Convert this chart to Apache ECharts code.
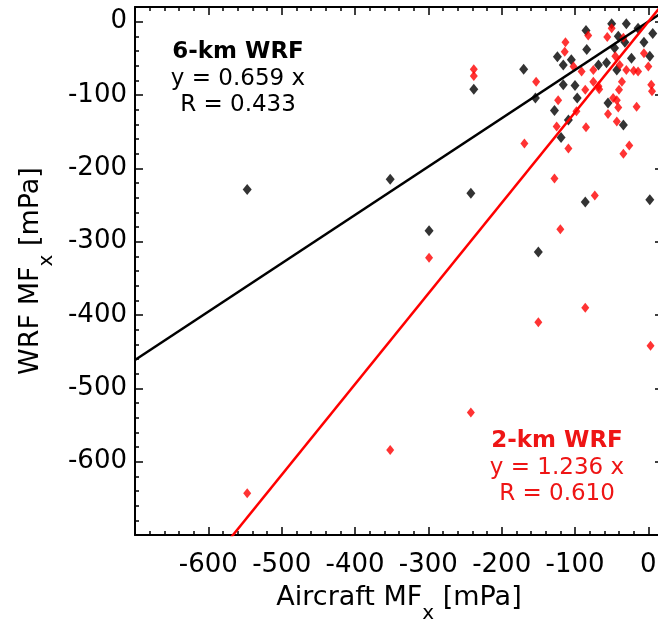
<!DOCTYPE html>
<html>
<head>
<meta charset="utf-8">
<script src="https://cdn.jsdelivr.net/npm/echarts@6.0.0/dist/echarts.min.js"></script>
<style>
html,body{margin:0;padding:0;background:#fff;}
#chart{width:658px;height:621px;}
</style>
</head>
<body>
<div id="chart"></div>
<script>
// ---- data ----
const blackX = [-547,-352,-242,-299,-238,-170,-154,-128,-150,-86,2,-119,-109,-124,-116,-105,-100,-97,-116,-85,-84,-68,-57,-55,-50,-46,-43,-41,-32,-30,-23,-14,-6,2,6,-34];
const blackY = [-229,-215,-234,-285,-92,-65,-104,-121,-314,-246,-243,-158,-134,-48,-59,-52,-87,-104,-86,-12,-38,-59,-56,-111,-3,-36,-66,-20,-28,-3,-50,-9,-28,-47,-16,-141];
const redX = [-547,-352,-299,-242,-238,-238,-153,-169,-128,-73,-120,-86,-150,3,-109,-125,-123,-113,-114,-102,-91,-82,-75,-75,-68,-86,-67,-56,-50,-45,-39,-34,-30,-20,-14,-6,0,-36,4,-40,5,-43,-48,-41,-16,-98,-55,-43,-85,-26,-34];
const redY = [-643,-584,-322,-533,-65,-74,-82,-166,-214,-237,-283,-390,-410,-442,-173,-143,-107,-28,-41,-61,-68,-19,-66,-82,-88,-93,-92,-21,-9,-47,-59,-22,-66,-67,-68,-43,-61,-82,-86,-93,-95,-107,-104,-117,-116,-122,-126,-136,-144,-169,-180];
const slopes = {black: 0.659, red: 1.236};
const axisMin = -700, axisMax = 20, majorStep = 100, minorStep = 20;
const blackLabels = ['6-km WRF', 'y = 0.659 x', 'R = 0.433'];
const redLabels = ['2-km WRF', 'y = 1.236 x', 'R = 0.610'];
const xTitle = ['Aircraft MF', 'x', ' [mPa]'];
const yTitle = ['WRF MF', 'x', ' [mPa]'];

// ---- build ----
const FONT = '"DejaVu Sans", sans-serif';
const RED = '#ff0000';
const RED_TXT = '#ee1515';
const zip = (xs, ys) => xs.map((x, i) => [x, ys[i]]);
const fitLine = (k) => [[axisMin, k * axisMin], [axisMax, k * axisMax]];

const labelFmt = v => (v % majorStep === 0 && v !== axisMin && v <= 0) ? String(v) : '';
const rich = {
  a: {fontSize: 27, fontFamily: FONT, color: '#000', lineHeight: 32, verticalAlign: 'top'},
  b: {fontSize: 20, fontFamily: FONT, color: '#000', lineHeight: 20, padding: [20, 0, 0, 0], verticalAlign: 'top'}
};
const titleStr = t => `{a|${t[0]}}{b|${t[1]}}{a|${t[2]}}`;

function mkAxes(dim) {
  const isX = dim === 'x';
  const posMain = isX ? 'bottom' : 'left';
  const posOpp = isX ? 'top' : 'right';
  const common = {type: 'value', min: axisMin, max: axisMax, splitLine: {show: false}, scale: false};
  const line = {show: true, onZero: false, lineStyle: {color: '#000', width: 2}};
  const noLine = {show: false, onZero: false};
  const tick = len => ({show: true, inside: true, length: len, lineStyle: {color: '#000', width: 1.5}});
  return [
    Object.assign({}, common, {
      position: posMain, interval: majorStep, axisLine: line, axisTick: tick(8),
      axisLabel: {show: true, fontSize: 26, fontFamily: FONT, color: '#000', margin: isX ? 17 : 8, formatter: labelFmt},
      name: titleStr(isX ? xTitle : yTitle), nameLocation: 'middle', nameGap: isX ? 49 : 86,
      nameRotate: isX ? 0 : 90,
      nameTextStyle: {rich: rich}
    }),
    Object.assign({}, common, {position: posMain, interval: minorStep, axisLine: noLine, axisTick: tick(4), axisLabel: {show: false}}),
    Object.assign({}, common, {position: posOpp, interval: majorStep, axisLine: line, axisTick: tick(8), axisLabel: {show: false}}),
    Object.assign({}, common, {position: posOpp, interval: minorStep, axisLine: noLine, axisTick: tick(4), axisLabel: {show: false}})
  ];
}

function textBlock(lines, cx, ys, color) {
  return lines.map((t, i) => ({
    type: 'text', x: cx, y: ys[i], z: 100,
    style: {text: t, fill: color, font: (i === 0 ? 'bold ' : '') + '23px ' + FONT,
      textAlign: 'center', textVerticalAlign: 'middle', align: 'center', verticalAlign: 'middle'}
  }));
}

const chart = echarts.init(document.getElementById('chart'), null, {renderer: 'canvas'});
chart.setOption({
  animation: false,
  backgroundColor: '#fff',
  grid: {left: 135, top: 7, width: 528, height: 528, containLabel: false, outerBoundsMode: 'none'},
  xAxis: mkAxes('x'),
  yAxis: mkAxes('y'),
  series: [
    {type: 'scatter', xAxisIndex: 0, yAxisIndex: 0, symbol: 'diamond', symbolSize: [9, 11],
      itemStyle: {color: '#000'}, data: zip(blackX, blackY), z: 2},
    {type: 'scatter', xAxisIndex: 0, yAxisIndex: 0, symbol: 'diamond', symbolSize: [8, 10],
      itemStyle: {color: RED}, data: zip(redX, redY), z: 3},
    {type: 'line', xAxisIndex: 0, yAxisIndex: 0, showSymbol: false, clip: true,
      lineStyle: {color: '#000', width: 2.5}, data: fitLine(slopes.black), z: 4},
    {type: 'line', xAxisIndex: 0, yAxisIndex: 0, showSymbol: false, clip: true,
      lineStyle: {color: RED, width: 2.5}, data: fitLine(slopes.red), z: 4}
  ],
  graphic: [].concat(
    textBlock(blackLabels, 238, [52, 79, 105], '#000'),
    textBlock(redLabels, 557, [441, 468, 494], RED_TXT)
  )
});
</script>
</body>
</html>
